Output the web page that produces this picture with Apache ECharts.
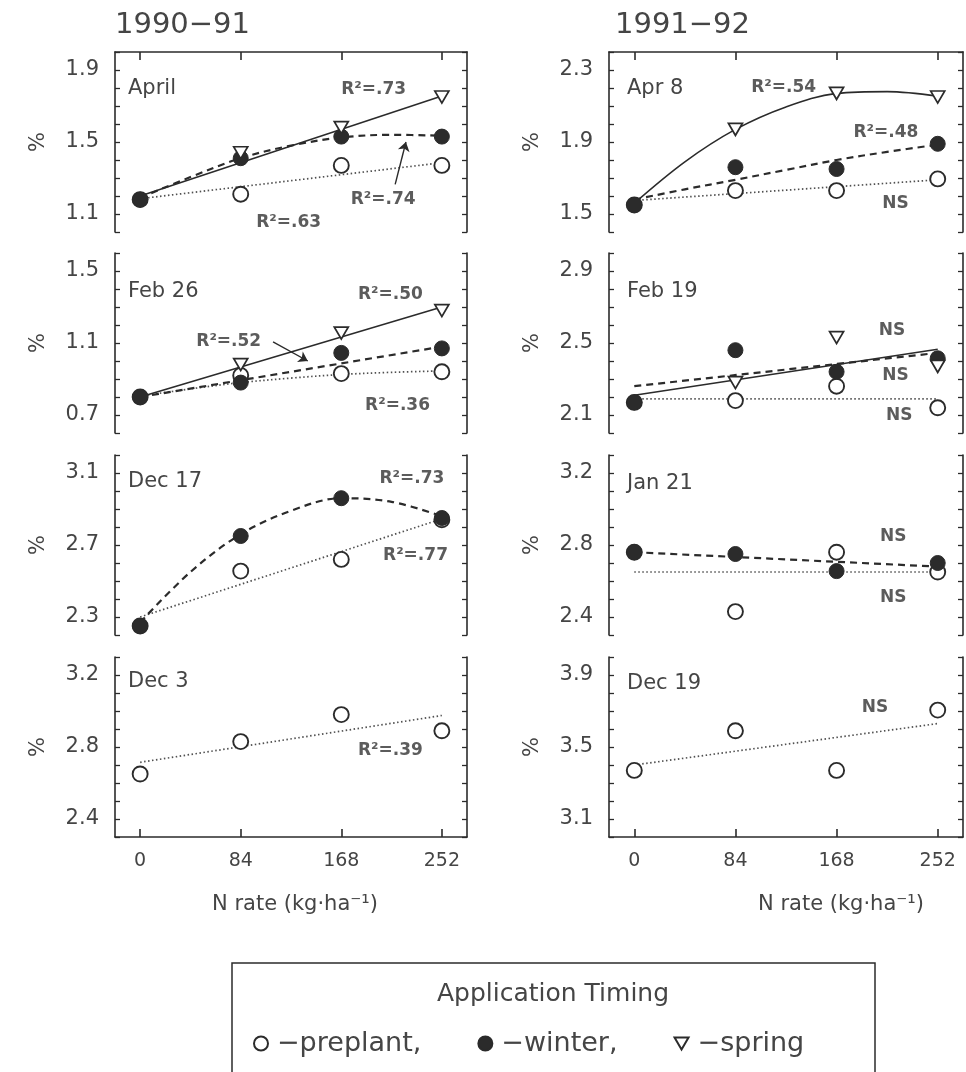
<!DOCTYPE html>
<html><head><meta charset="utf-8">
<script src="https://cdn.jsdelivr.net/npm/echarts@6/dist/echarts.min.js"></script>
<style>html,body{margin:0;padding:0;background:#fff}#c{width:966px;height:1072px}</style>
</head><body><div id="c"></div><script>
// ---------- data ----------
const rates = [0, 84, 168, 252];            // N rate (kg/ha)
const lineX = [0, 252];                      // x of straight fitted lines
const curveX = [0, 42, 84, 126, 168, 210, 252]; // x of curved fitted lines
const seasons = ['1990−91', '1991−92'];
const timings = ['preplant', 'winter', 'spring'];

// 1990-91 April
const apr91Pre = [1.18, 1.21, 1.37, 1.37];
const apr91Win = [1.18, 1.41, 1.53, 1.53];
const apr91Spr = [null, 1.44, 1.58, 1.75];
const apr91PreFit = [1.185, 1.385];
const apr91WinFit = [1.19, 1.305, 1.41, 1.48, 1.525, 1.54, 1.535];
const apr91SprFit = [1.20, 1.755];
const apr91Notes = [[195, 1.79, 'R²=.73'], [203, 1.18, 'R²=.74'], [124, 1.055, 'R²=.63']];
const apr91Arrow = [[213, 1.265], [222, 1.5]];
// 1990-91 Feb 26
const feb91Pre = [0.80, 0.92, 0.93, 0.94];
const feb91Win = [0.80, 0.88, 1.045, 1.07];
const feb91Spr = [null, 0.98, 1.155, 1.28];
const feb91PreFit = [0.805, 0.845, 0.88, 0.905, 0.925, 0.937, 0.945];
const feb91WinFit = [0.80, 1.08];
const feb91SprFit = [0.80, 1.30];
const feb91Notes = [[209, 1.367, 'R²=.50'], [74, 1.106, 'R²=.52'], [215, 0.75, 'R²=.36']];
const feb91Arrow = [[111, 1.106], [140, 1.0]];
// 1990-91 Dec 17
const dec17Pre = [2.25, 2.555, 2.62, 2.84];
const dec17Win = [2.25, 2.75, 2.96, 2.85];
const dec17PreFit = [2.30, 2.845];
const dec17WinFit = [2.27, 2.55, 2.76, 2.89, 2.96, 2.94, 2.86];
const dec17Notes = [[227, 3.07, 'R²=.73'], [230, 2.64, 'R²=.77']];
// 1990-91 Dec 3
const dec3Pre = [2.65, 2.83, 2.98, 2.89];
const dec3PreFit = [2.715, 2.975];
const dec3Notes = [[209, 2.78, 'R²=.39']];
// 1991-92 Apr 8
const apr8Pre = [1.55, 1.63, 1.63, 1.695];
const apr8Win = [1.55, 1.76, 1.75, 1.89];
const apr8Spr = [null, 1.97, 2.17, 2.15];
const apr8PreFit = [1.575, 1.69];
const apr8WinFit = [1.58, 1.637, 1.69, 1.745, 1.80, 1.845, 1.885];
const apr8SprFit = [1.56, 1.79, 1.97, 2.095, 2.17, 2.18, 2.155];
const apr8Notes = [[124, 2.205, 'R²=.54'], [209, 1.95, 'R²=.48'], [217, 1.56, 'NS']];
// 1991-92 Feb 19
const feb19Pre = [2.17, 2.18, 2.26, 2.14];
const feb19Win = [2.17, 2.46, 2.34, 2.415];
const feb19Spr = [null, 2.28, 2.53, 2.37];
const feb19PreFit = [2.19, 2.19];
const feb19WinFit = [2.26, 2.445];
const feb19SprFit = [2.21, 2.465];
const feb19Notes = [[214, 2.567, 'NS'], [217, 2.317, 'NS'], [220, 2.095, 'NS']];
// 1991-92 Jan 21
const jan21Pre = [2.76, 2.43, 2.76, 2.65];
const jan21Win = [2.76, 2.75, 2.655, 2.70];
const jan21PreFit = [2.65, 2.65];
const jan21WinFit = [2.76, 2.68];
const jan21Notes = [[215, 2.845, 'NS'], [215, 2.51, 'NS']];
// 1991-92 Dec 19
const dec19Pre = [3.37, 3.59, 3.37, 3.705];
const dec19PreFit = [3.40, 3.63];
const dec19Notes = [[200, 3.72, 'NS']];

// ---------- layout / styles ----------
const FONT = '"DejaVu Sans", sans-serif';
const INK = '#2b2b2b', TXT = '#454545';
const colLeft = [115, 609], colWidth = [352, 354];
const rowTop = [52, 253, 455, 657], rowH = 180;
const xMin = -21, xMax = 273;
const TRI = 'path://M0,0 L10,0 L5,8.7 Z';

const panels = [
  {col:0,row:0,yMin:1.0,yMax:2.0,yLab:[11,15,19],date:'April',dy:38,pre:apr91Pre,win:apr91Win,spr:apr91Spr,
   fits:[['pre',lineX,apr91PreFit],['win',curveX,apr91WinFit],['spr',lineX,apr91SprFit]],notes:apr91Notes,arrow:apr91Arrow},
  {col:0,row:1,yMin:0.6,yMax:1.6,yLab:[7,11,15],date:'Feb 26',dy:40,pre:feb91Pre,win:feb91Win,spr:feb91Spr,
   fits:[['pre',curveX,feb91PreFit],['win',lineX,feb91WinFit],['spr',lineX,feb91SprFit]],notes:feb91Notes,arrow:feb91Arrow},
  {col:0,row:2,yMin:2.2,yMax:3.2,yLab:[23,27,31],date:'Dec 17',dy:28,pre:dec17Pre,win:dec17Win,
   fits:[['pre',lineX,dec17PreFit],['win',curveX,dec17WinFit]],notes:dec17Notes},
  {col:0,row:3,yMin:2.3,yMax:3.3,yLab:[24,28,32],date:'Dec 3',dy:26,pre:dec3Pre,
   fits:[['pre',lineX,dec3PreFit]],notes:dec3Notes},
  {col:1,row:0,yMin:1.4,yMax:2.4,yLab:[15,19,23],date:'Apr 8',dy:38,pre:apr8Pre,win:apr8Win,spr:apr8Spr,
   fits:[['pre',lineX,apr8PreFit],['win',curveX,apr8WinFit],['spr',curveX,apr8SprFit]],notes:apr8Notes},
  {col:1,row:1,yMin:2.0,yMax:3.0,yLab:[21,25,29],date:'Feb 19',dy:40,pre:feb19Pre,win:feb19Win,spr:feb19Spr,
   fits:[['pre',lineX,feb19PreFit],['win',lineX,feb19WinFit],['spr',lineX,feb19SprFit]],notes:feb19Notes},
  {col:1,row:2,yMin:2.3,yMax:3.3,yLab:[24,28,32],date:'Jan 21',dy:30,pre:jan21Pre,win:jan21Win,
   fits:[['pre',lineX,jan21PreFit],['win',lineX,jan21WinFit]],notes:jan21Notes},
  {col:1,row:3,yMin:3.0,yMax:4.0,yLab:[31,35,39],date:'Dec 19',dy:28,pre:dec19Pre,
   fits:[['pre',lineX,dec19PreFit]],notes:dec19Notes}
];

const fitStyle = {
  pre: {type:[1.5,2.5], width:1.7, color:'#505050'},
  win: {type:[7,5], width:2.2, color:INK},
  spr: {type:'solid', width:1.6, color:INK}
};
const pointStyle = {
  preplant: {symbol:'circle', symbolSize:15, itemStyle:{color:'#fff', borderColor:INK, borderWidth:1.9, opacity:1}, z:4},
  winter: {symbol:'circle', symbolSize:15, itemStyle:{color:INK, borderColor:INK, borderWidth:1, opacity:1}, z:5},
  spring: {symbol:TRI, symbolSize:[14,12], itemStyle:{color:'#fff', borderColor:INK, borderWidth:1.7, opacity:1}, z:6}
};

const option = {
  animation:false, backgroundColor:'#fff',
  textStyle:{fontFamily:FONT},
  grid:[], xAxis:[], yAxis:[], series:[], graphic:[],
  legend:{
    data: timings, top:1025, left:248, itemGap:56, itemWidth:14, itemHeight:14,
    formatter: n => '−' + n + (n === 'spring' ? '' : ','),
    textStyle:{fontSize:27, color:TXT, fontFamily:FONT, padding:[0,0,0,4]}, selectedMode:false
  }
};

const mk = (xs, ys) => xs.map((x, k) => [x, ys[k]]).filter(d => d[1] != null);

panels.forEach((p, i) => {
  const left = colLeft[p.col], top = rowTop[p.row];
  const isTop = p.row === 0, isBottom = p.row === 3;
  option.grid.push({left, top, width: colWidth[p.col], height: rowH});
  option.xAxis.push({
    type:'value', gridIndex:i, min:xMin, max:xMax, position: isTop ? 'top' : 'bottom',
    axisLine:{show:isTop || isBottom, onZero:false, lineStyle:{color:INK, width:1.6}},
    axisTick:{show:isTop || isBottom, inside:true, length:8, customValues:rates, lineStyle:{color:INK, width:1.6}},
    axisLabel:{show:isBottom, customValues:rates, margin:15, fontSize:19, color:TXT, fontFamily:FONT},
    splitLine:{show:false}
  });
  const labSet = new Set(p.yLab);
  const yBase = {
    type:'value', gridIndex:i, min:p.yMin, max:p.yMax, interval:0.1, splitLine:{show:false},
    axisLine:{show:true, onZero:false, lineStyle:{color:INK, width:1.6}},
    axisTick:{show:true, inside:true, length:5, lineStyle:{color:INK, width:1.3}}
  };
  option.yAxis.push(Object.assign({}, yBase, {
    position:'left', name:'%', nameLocation:'middle', nameGap:66, nameRotate:90,
    nameTextStyle:{fontSize:21, color:TXT, fontFamily:FONT},
    axisLabel:{show:true, interval:0, margin:16, fontSize:21, color:TXT, fontFamily:FONT,
      formatter: v => labSet.has(Math.round(v * 10)) ? v.toFixed(1) : ''}
  }));
  option.yAxis.push(Object.assign({}, yBase, {position:'right', axisLabel:{show:false}}));
  const yi = 2 * i;
  // fitted lines
  p.fits.forEach(f => {
    option.series.push({
      type:'line', xAxisIndex:i, yAxisIndex:yi, data: mk(f[1], f[2]), symbol:'none',
      smooth: f[1].length > 2 ? 0.35 : false, lineStyle: fitStyle[f[0]], z:2, silent:true
    });
  });
  // points
  [['preplant', p.pre], ['winter', p.win], ['spring', p.spr]].forEach(([name, vals]) => {
    if (!vals) return;
    option.series.push(Object.assign({
      type:'scatter', name, xAxisIndex:i, yAxisIndex:yi, data: mk(rates, vals), silent:true
    }, pointStyle[name]));
  });
  // annotations
  const noteSeries = {
    type:'scatter', name:'notes', xAxisIndex:i, yAxisIndex:yi, symbolSize:0, silent:true, z:7,
    data: p.notes,
    label:{show:true, position:'inside', formatter: q => q.data[2],
      fontSize:17, fontWeight:'bold', color:'#333', fontFamily:FONT}
  };
  if (p.arrow) {
    noteSeries.markLine = {silent:true, symbol:['none','arrow'], symbolSize:9, animation:false,
      lineStyle:{type:'solid', color:INK, width:1.4}, label:{show:false},
      data:[[{coord:p.arrow[0]}, {coord:p.arrow[1]}]]};
  }
  option.series.push(noteSeries);
  // date label
  option.graphic.push({type:'text', left: left + (p.col === 0 ? 13 : 18), top: top + p.dy - 12,
    style:{text:p.date, fontSize:21, fill:TXT, fontFamily:FONT}});
});

// season titles
option.graphic.push({type:'text', left:115, top:11, style:{text:seasons[0], fontSize:29, fill:TXT, fontFamily:FONT}});
option.graphic.push({type:'text', left:615, top:11, style:{text:seasons[1], fontSize:29, fill:TXT, fontFamily:FONT}});
// x axis titles
option.graphic.push({type:'text', x:295, y:905, style:{text:'N rate (kg·ha⁻¹)', fontSize:21, fill:TXT, fontFamily:FONT, align:'center', verticalAlign:'middle'}});
option.graphic.push({type:'text', x:841, y:905, style:{text:'N rate (kg·ha⁻¹)', fontSize:21, fill:TXT, fontFamily:FONT, align:'center', verticalAlign:'middle'}});
// legend box + title
option.graphic.push({type:'rect', shape:{x:232, y:963, width:643, height:140}, style:{fill:'none', stroke:INK, lineWidth:1.5}, z:-1});
option.graphic.push({type:'text', x:553, y:994, style:{text:'Application Timing', fontSize:25, fill:TXT, fontFamily:FONT, align:'center', verticalAlign:'middle'}});

const chart = echarts.init(document.getElementById('c'), null, {renderer:'canvas'});
chart.setOption(option);
</script></body></html>
